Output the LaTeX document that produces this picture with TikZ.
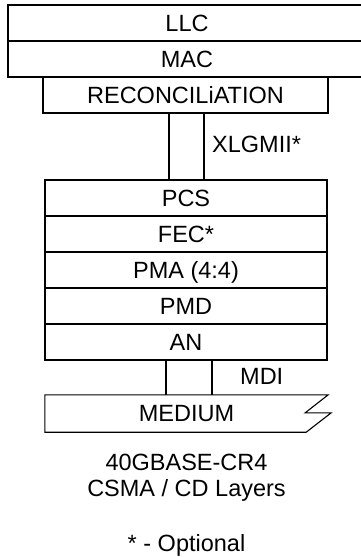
\documentclass[tikz,border=0pt]{standalone}
\usepackage{fontspec}
\setmainfont{Liberation Sans}
\usetikzlibrary{positioning}
\newcommand{\osifont}{\fontsize{23.5}{27}\selectfont}
\tikzset{
  osi/layer/.style={
    draw=black,
    line width=1.1pt,
    fill=white,
    align=center,
    minimum height=36pt,
    inner sep=0pt,
    text height=16.8pt,
    text depth=0pt,
    font=\osifont
  },
  osi/hole/.style={
    minimum height=37pt,
    minimum width=283pt,
    inner sep=0pt,
    text height=16.8pt,
    text depth=0pt,
    font=\osifont
  },
  osi/label/.style={inner sep=0pt, font=\osifont},
  osi/wire/.style={line width=1.1pt, draw=black}
}

\begin{document}
\begin{tikzpicture}[x=1pt,y=-1pt]
  \useasboundingbox (0,0) rectangle (361,557);
  \clip (0,0) rectangle (361,557);
  % upper layers
  \node[osi/layer,minimum width=358pt] (llc) at (187,23) {LLC};
  \node[osi/layer,minimum width=358pt] (mac) at (187,59) {MAC};
  \node[osi/layer,minimum width=285pt] (recon) at (185.5,95) {RECONCILiATION};
  % PHY stack
  \node[osi/layer,minimum width=282pt] (pcs) at (186,198) {PCS};
  \node[osi/layer,minimum width=282pt] (fec) at (186,234) {FEC*};
  \node[osi/layer,minimum width=282pt] (pma) at (186,270) {PMA (4:4)};
  \node[osi/layer,minimum width=282pt] (pmd) at (186,306) {PMD};
  \node[osi/layer,minimum width=282pt] (an) at (186,342) {AN};
  \node[osi/hole] (medium) at (186.5,413.5) {MEDIUM};
  \draw[osi/wire] (medium.north west) -- (medium.north east) -- ++(-23,18) -- ++(26,0)
    -- ([xshift=-22pt]medium.south east) -- (medium.south west) -- cycle;
  % interfaces
  \draw[osi/wire] ([xshift=-16.5pt]recon.south) -- ([xshift=-16.5pt]recon.south |- pcs.north);
  \draw[osi/wire] ([xshift=18.5pt]recon.south) -- ([xshift=18.5pt]recon.south |- pcs.north);
  \node[osi/label,anchor=west] (xlgmii) at (212,144) {XLGMII*};
  \draw[osi/wire] ([xshift=-20pt]an.south) -- ([xshift=-20pt]an.south |- medium.north);
  \draw[osi/wire] ([xshift=26pt]an.south) -- ([xshift=26pt]an.south |- medium.north);
  \node[osi/label,anchor=west] (mdi) at (240,376) {MDI};
  % captions
  \node[osi/label,anchor=base] (phy) at (186.5,470) {40GBASE-CR4};
  \node[osi/label,anchor=base] (csma) at (186.5,496) {CSMA / CD Layers};
  \node[osi/label,anchor=base] (note) at (186.5,551) {* - Optional};
\end{tikzpicture}
\end{document}
